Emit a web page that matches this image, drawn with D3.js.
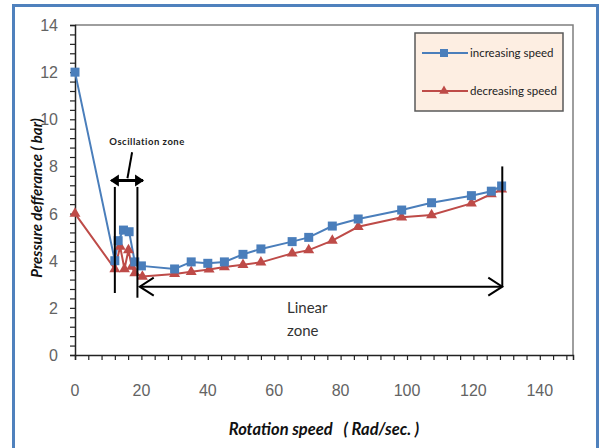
<!DOCTYPE html>
<html><head><meta charset="utf-8">
<script src="https://cdn.jsdelivr.net/npm/d3@7"></script>
<style>body{margin:0;background:#fff}svg{display:block}</style>
</head><body>
<svg id="c" width="604" height="448"></svg>
<script>
const incX = [0,12,13,14.6,16.3,18,20,30,35,40,45,50.6,56,65.4,70.4,77.5,85.3,98.4,107.4,119.4,125.4,128.5];
const incY = [12,4.0,4.85,5.3,5.23,3.95,3.78,3.65,3.95,3.89,3.95,4.27,4.5,4.81,4.99,5.47,5.77,6.15,6.46,6.76,6.95,7.17];
const decX = [0,12,13.6,14.9,16.1,17.1,18,20.3,30,35,40.4,45,50.6,56,65.4,70.4,77.5,85.3,98.4,107.4,119.4,125.4,128.5];
const decY = [6,3.65,4.6,3.65,4.45,3.75,3.47,3.33,3.44,3.53,3.63,3.73,3.83,3.93,4.31,4.45,4.85,5.44,5.84,5.94,6.43,6.83,7.03];
const xTicks = [0,20,40,60,80,100,120,140];
const yTicks = [0,2,4,6,8,10,12,14];
const seriesNames = ["increasing speed","decreasing speed"];

const svg = d3.select("#c");
const L=75,R=573,T=25,B=355;
const x = d3.scaleLinear().domain([0,150]).range([L,R]);
const y = d3.scaleLinear().domain([0,14]).range([B,T]);
const blue="#4a7ebb", red="#be4b48";

svg.append("rect").attr("x",13.5).attr("y",5.5).attr("width",584).attr("height",460)
  .attr("fill","#fff").attr("stroke","#4f81bd").attr("stroke-width",3);

svg.append("path").attr("d",`M${L},${T}H${R}V${B}`).attr("fill","none").attr("stroke","#7f7f7f").attr("stroke-width",1.5);

const xAxis = d3.axisBottom(x).tickValues(d3.range(0,151,4)).tickSize(5).tickFormat("");
svg.append("g").attr("transform",`translate(0,${B})`).call(xAxis)
  .call(g=>{g.select(".domain").attr("stroke","#222").attr("stroke-width",1.5);g.selectAll("line").attr("stroke","#222").attr("stroke-width",1.2);});
const yAxis = d3.axisLeft(y).tickValues(d3.range(0,14.01,0.4)).tickSize(5).tickFormat("");
svg.append("g").attr("transform",`translate(${L},0)`).call(yAxis)
  .call(g=>{g.select(".domain").attr("stroke","#222").attr("stroke-width",1.5);g.selectAll("line").attr("stroke","#222").attr("stroke-width",1.2);});

const tickFont = "'Liberation Sans', Arial, sans-serif";
svg.append("g").selectAll("text").data(xTicks).join("text")
  .attr("x",d=>x(d)).attr("y",396).attr("text-anchor","middle")
  .attr("font-family",tickFont).attr("font-size",16).attr("fill","#636363").text(d=>d);
svg.append("g").selectAll("text").data(yTicks).join("text")
  .attr("x",58).attr("y",d=>y(d)+6).attr("text-anchor","end")
  .attr("font-family",tickFont).attr("font-size",16).attr("fill","#636363").text(d=>d);

svg.append("text").attr("x",324).attr("y",435).attr("text-anchor","middle")
  .attr("font-family","Lato, sans-serif").attr("font-weight","bold").attr("font-style","italic")
  .attr("font-size",16.5).attr("fill","#111").attr("xml:space","preserve").text("Rotation speed   ( Rad/sec. )");
svg.append("text").attr("transform","translate(42,198) rotate(-90)").attr("text-anchor","middle")
  .attr("font-family","Lato, sans-serif").attr("font-weight","bold").attr("font-style","italic")
  .attr("font-size",15).attr("fill","#111").text("Pressure defferance ( bar)");

const line = d3.line().x(d=>x(d[0])).y(d=>y(d[1]));
const inc = incX.map((v,i)=>[v,incY[i]]);
const dec = decX.map((v,i)=>[v,decY[i]]);
svg.append("path").datum(dec).attr("d",line).attr("fill","none").attr("stroke",red).attr("stroke-width",2);
svg.append("path").datum(inc).attr("d",line).attr("fill","none").attr("stroke",blue).attr("stroke-width",2);
const tri = d3.symbol().type(d3.symbolTriangle).size(52);
svg.append("g").selectAll("path").data(dec).join("path").attr("d",tri)
  .attr("transform",d=>`translate(${x(d[0])},${y(d[1])})`).attr("fill",red);
svg.append("g").selectAll("rect").data(inc).join("rect")
  .attr("x",d=>x(d[0])-4.5).attr("y",d=>y(d[1])-4.5).attr("width",9).attr("height",9).attr("fill",blue);

const ann = svg.append("g").attr("stroke","#000").attr("fill","none");
ann.append("line").attr("x1",x(12)).attr("x2",x(12)).attr("y1",y(7.13)).attr("y2",y(2.63)).attr("stroke-width",2);
ann.append("line").attr("x1",x(18.8)).attr("x2",x(18.8)).attr("y1",y(7.13)).attr("y2",y(2.43)).attr("stroke-width",2);
const ay=y(7.4);
ann.append("line").attr("x1",x(11)).attr("x2",x(20.5)).attr("y1",ay).attr("y2",ay).attr("stroke-width",3);
svg.append("path").attr("d",`M${x(10.5)},${ay}l9,-6v12z`).attr("fill","#000");
svg.append("path").attr("d",`M${x(20.8)},${ay}l-9,-6v12z`).attr("fill","#000");
ann.append("line").attr("x1",x(17.2)).attr("y1",y(8.6)).attr("x2",x(15.8)).attr("y2",y(7.5)).attr("stroke-width",2);
svg.append("text").attr("x",x(21.7)).attr("y",y(8.9)).attr("text-anchor","middle")
  .attr("font-family","Lato, sans-serif").attr("font-weight","bold").attr("font-size",9.5)
  .attr("letter-spacing",0.5).attr("fill","#222").text("Oscillation zone");
const ly=y(2.9);
ann.append("line").attr("x1",x(19.5)).attr("x2",x(128.7)).attr("y1",ly).attr("y2",ly).attr("stroke-width",2);
ann.append("path").attr("d",`M${x(19.5)+14},${ly-9}L${x(19.5)},${ly}L${x(19.5)+14},${ly+9}`).attr("stroke-width",2);
ann.append("path").attr("d",`M${x(128.7)-14},${ly-9}L${x(128.7)},${ly}L${x(128.7)-14},${ly+9}`).attr("stroke-width",2);
ann.append("line").attr("x1",x(128.7)).attr("x2",x(128.7)).attr("y1",y(8.0)).attr("y2",ly).attr("stroke-width",2);
svg.append("text").attr("x",287).attr("y",313).attr("font-family","Lato, sans-serif").attr("font-size",15).attr("fill","#333").text("Linear");
svg.append("text").attr("x",287).attr("y",336).attr("font-family","Lato, sans-serif").attr("font-size",15).attr("fill","#333").text("zone");

const lg = svg.append("g");
lg.append("rect").attr("x",415).attr("y",33).attr("width",148).attr("height",78)
  .attr("fill","#fdeee2").attr("stroke","#595959").attr("stroke-width",1.5);
const colors=[blue,red];
seriesNames.forEach((nm,i)=>{
  const yy = 53 + i*38;
  lg.append("line").attr("x1",422).attr("x2",468).attr("y1",yy).attr("y2",yy).attr("stroke",colors[i]).attr("stroke-width",2);
  if(i===0) lg.append("rect").attr("x",440).attr("y",yy-4).attr("width",8).attr("height",8).attr("fill",blue);
  else lg.append("path").attr("d",d3.symbol().type(d3.symbolTriangle).size(40)).attr("transform",`translate(444,${yy})`).attr("fill",red);
  lg.append("text").attr("x",470).attr("y",yy+4).attr("font-family","Lato, sans-serif").attr("font-size",11.5)
    .attr("fill","#222").text(nm);
});
</script>
</body></html>
